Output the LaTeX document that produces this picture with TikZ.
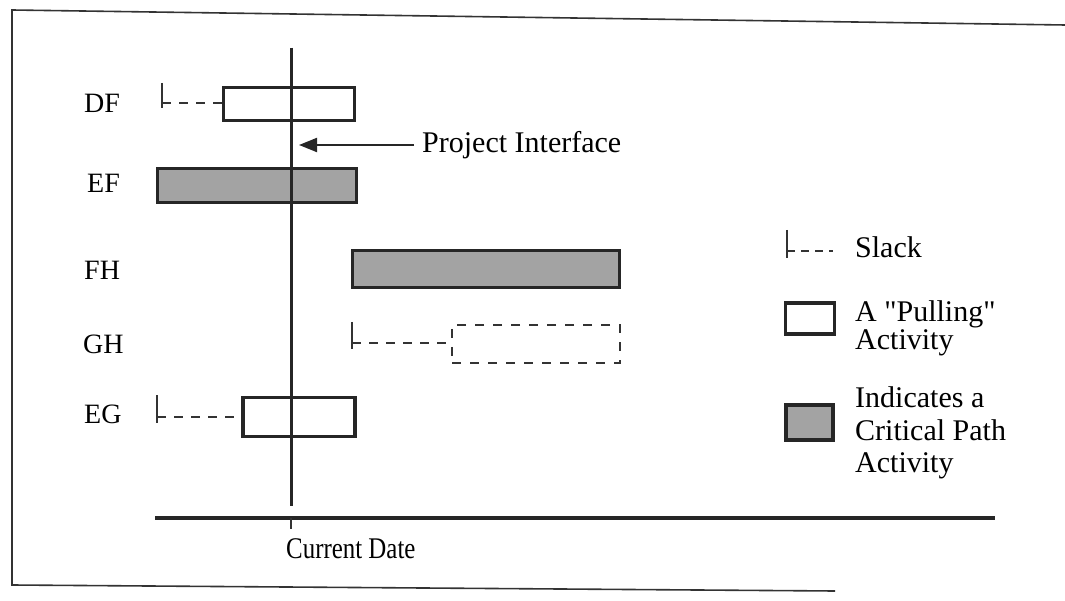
\documentclass[tikz,border=0pt]{standalone}
\usepackage{fontspec}
\newfontfamily\tfont{Liberation Serif}
\newfontfamily\tcond{Liberation Serif}[FakeStretch=0.83]
\usetikzlibrary{arrows.meta,calc}
\begin{document}
\begin{tikzpicture}[x=1pt,y=-1pt,
  lbl/.style={font=\tfont\fontsize{30}{32}\selectfont, inner sep=0pt, anchor=base west},
  rowlbl/.style={font=\tfont\fontsize{28}{30}\selectfont, inner sep=0pt, anchor=base west},
  pullbox/.style={draw=black!85, line width=3.5pt, fill=white, inner sep=0pt},
  critbox/.style={draw=black!85, line width=3.5pt, fill=black!36, inner sep=0pt},
  dashbox/.style={draw=black!80, line width=2pt, dash pattern=on 9pt off 9pt, inner sep=0pt},
  slackline/.style={draw=black!80, line width=2pt, dash pattern=on 9pt off 8pt},
  slacktick/.style={draw=black!80, line width=2pt},
  frameline/.style={draw=black!80, line width=1.6pt},
]
\useasboundingbox (0,0) rectangle (1065,601);
% frame
\draw[frameline] (1065,25) -- (12,10) -- (12,585) -- (835,591);
% current date line
\coordinate (vtop) at (291,48);
\coordinate (vbot) at (291,506);
\draw[line width=3pt, black!85] (vtop) -- (vbot);
% axis
\coordinate (axl) at (155,518);
\coordinate (axr) at (995,518);
\coordinate (tick) at (291,518);
\coordinate (tickb) at (291,529);
\draw[line width=4pt, black!85] (axl) -- (axr);
\draw[line width=2pt, black!80] (tick) -- (tickb);
\node[lbl, font=\tcond\fontsize{30}{32}\selectfont] (cd) at (286,558) {Current Date};
% row labels
\node[rowlbl] (lDF) at (84,113) {DF};
\node[rowlbl] (lEF) at (87,193) {EF};
\node[rowlbl] (lFH) at (84,280) {FH};
\node[rowlbl] (lGH) at (83,354) {GH};
\node[rowlbl] (lEG) at (84,423) {EG};
% DF
\node[pullbox, minimum width=131pt, minimum height=33pt] (df) at (289,104) {};
\coordinate (dfs) at (162,103);
\draw[slacktick] ($(dfs)+(0,-20)$) -- ($(dfs)+(0,5)$);
\draw[slackline] (dfs) -- (dfs -| df.west);
% EF
\node[critbox, minimum width=199pt, minimum height=34pt] (ef) at (257,185.5) {};
% FH
\node[critbox, minimum width=267pt, minimum height=37pt] (fh) at (486,269) {};
% GH
\node[dashbox, minimum width=168pt, minimum height=38pt] (gh) at (536,344) {};
\coordinate (ghs) at (352,343);
\draw[slacktick] ($(ghs)+(0,-21)$) -- ($(ghs)+(0,6)$);
\draw[slackline] (ghs) -- (ghs -| gh.west);
% EG
\node[pullbox, minimum width=112pt, minimum height=39pt] (eg) at (299,417) {};
\coordinate (egs) at (157,417);
\draw[slacktick] ($(egs)+(0,-22)$) -- ($(egs)+(0,6)$);
\draw[slackline] (egs) -- (egs -| eg.west);
% redraw vertical line over boxes
\draw[line width=3pt, black!85] (vtop) -- (vbot);
% project interface
\node[lbl] (pi) at (422,153) {Project Interface};
\coordinate (pitip) at (299,145);
\draw[line width=2pt, black!85, -{Triangle[length=18pt,width=14pt]}] ([xshift=-8pt]pi.west |- pitip) -- (pitip);
% legend
\coordinate (ls) at (787,251);
\draw[slacktick] ($(ls)+(0,-21)$) -- ($(ls)+(0,7)$);
\coordinate (lse) at (833,251);
\draw[slackline, dash pattern=on 8pt off 6pt] (ls) -- (lse);
\node[lbl] (tslack) at (855,258) {Slack};
\node[pullbox, minimum width=49pt, minimum height=31pt] (lpull) at (810,318.5) {};
\node[lbl] (tpull1) at (855,322) {A "Pulling"};
\node[lbl] (tpull2) at (855,350) {Activity};
\node[critbox, minimum width=47pt, minimum height=35pt] (lcrit) at (809.5,422.5) {};
\node[lbl] (tcrit1) at (855,407) {Indicates a};
\node[lbl] (tcrit2) at (855,440) {Critical Path};
\node[lbl] (tcrit3) at (855,472) {Activity};
\end{tikzpicture}
\end{document}
